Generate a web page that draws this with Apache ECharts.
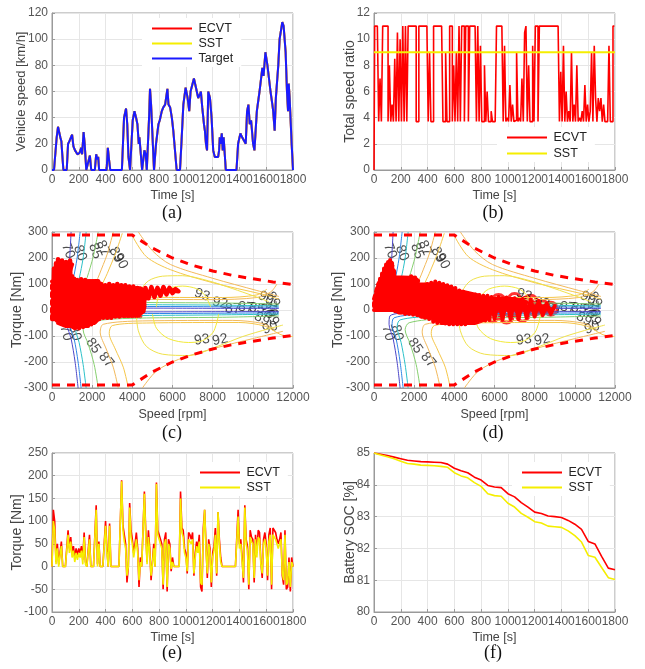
<!DOCTYPE html>
<html>
<head>
<meta charset="utf-8">
<script src="https://cdn.jsdelivr.net/npm/echarts@6.0.0/dist/echarts.min.js"></script>
<style>
html, body { margin: 0; padding: 0; background: #fff; }
#chart { width: 645px; height: 669px; }
</style>
</head>
<body>
<div id="chart"></div>
<script>
// ---- (a) vehicle speed, [time s, km/h]
const speedTarget = [
  [0,0],[15,0],[35,25],[45,33],[55,32],[62,25],[70,22],[78,10],[85,0],[110,0],[120,20],[130,22],[150,27],[160,18],
  [172,15],[190,12],[205,13],[212,15],[218,17],[225,12],[236,29],[244,20],[256,0],[268,0],[283,11],[293,0],[320,0],
  [330,12],[338,8],[345,10],[352,0],[408,0],[417,17],[426,8],[435,0],[522,0],[538,40],[553,47],[562,35],[571,10],
  [583,0],[592,0],[603,38],[616,45],[628,40],[638,35],[648,20],[653,25],[665,10],[673,0],[683,0],[690,15],[700,12],
  [708,0],[715,0],[725,40],[732,62],[740,50],[762,0],[770,0],[777,20],[795,35],[805,38],[820,45],[832,48],[845,50],
  [862,62],[870,50],[882,48],[895,40],[906,30],[931,0],[956,0],[968,23],[981,50],[998,63],[1013,55],[1025,45],
  [1035,60],[1060,70],[1075,63],[1092,55],[1105,58],[1112,60],[1122,48],[1135,35],[1142,30],[1150,20],[1158,15],
  [1167,60],[1180,55],[1192,40],[1204,15],[1216,10],[1241,10],[1248,15],[1253,25],[1260,20],[1268,28],[1275,15],
  [1282,25],[1298,0],[1378,0],[1390,20],[1407,28],[1420,25],[1430,25],[1447,20],[1457,45],[1467,50],[1477,35],
  [1487,38],[1502,20],[1512,15],[1530,45],[1550,60],[1571,78],[1580,72],[1594,90],[1609,80],[1632,60],[1646,50],
  [1652,45],[1663,30],[1672,55],[1690,80],[1700,100],[1720,113],[1730,110],[1745,90],[1755,60],[1763,45],
  [1768,66],[1775,55],[1790,20],[1800,0]
];

// ---- (b) total speed ratio, one value every 10 s
const ratioECVT = [
  0, 11, 11, 11, 3.7, 7, 3.7, 11, 11, 11,
  11, 3.7, 8, 3.7, 5, 3.7, 8.5, 3.7, 10.5, 3.7,
  10, 3.7, 11, 3.7, 11, 3.7, 11, 11, 11, 11,
  11, 11, 3.7, 3.7, 11, 11, 11, 11, 11, 11,
  11, 3.7, 9, 3.7, 3.7, 11, 11, 11, 11, 11,
  11, 11, 3.7, 3.7, 9, 3.7, 3.7, 11, 11, 3.7,
  8, 3.7, 9, 3.7, 11, 3.7, 11, 11, 3.7, 11,
  11, 3.7, 11, 11, 11, 11, 11, 3.7, 11, 3.7,
  9.5, 3.7, 3.7, 8, 3.7, 6, 3.7, 3.7, 4.5, 3.7,
  3.7, 3.7, 11, 11, 11, 11, 11, 3.7, 9.5, 3.7,
  4, 3.7, 6.5, 3.7, 5, 3.7, 3.8, 9, 3.7, 4,
  3.7, 7, 3.7, 10.5, 11, 3.7, 8, 3.7, 3.7, 9.5,
  3.7, 11, 11, 3.7, 11, 11, 11, 11, 11, 11,
  11, 11, 11, 11, 11, 11, 11, 11, 11, 3.7,
  7.5, 3.7, 9.5, 3.7, 6, 3.7, 4.5, 3.7, 9, 3.7,
  5, 3.7, 8, 3.7, 4, 3.7, 4.5, 3.7, 6.5, 3.7,
  5, 3.7, 4.5, 9, 3.7, 9.5, 5.5, 3.7, 5.5, 4.5,
  5.5, 3.7, 5, 3.7, 3.7, 3.7, 9.5, 3.7, 3.7, 11,
  11
];
const ratioSST = 9;

// ---- (c)/(d) motor efficiency map contours, [rpm, Nm]
const eff70 = [[950,300],[880,200],[780,120],[640,55],[700,22],[2000,9],[6000,7],[11300,6]];
const eff70Neg = [[1300,-300],[1150,-200],[950,-110],[750,-55],[800,-22],[2000,-9],[6000,-7],[11300,-6]];
const eff80 = [[1400,300],[1250,200],[1050,115],[880,55],[1000,28],[2500,15],[7000,13],[11300,11]];
const eff80Neg = [[1450,-300],[1300,-200],[1100,-110],[900,-60],[1000,-30],[2500,-16],[7000,-13],[11300,-11]];
const eff85 = [[1700,300],[1550,200],[1350,120],[1150,62],[1300,36],[3000,23],[8000,19],[11300,16]];
const eff85Neg = [[1700,-300],[1550,-210],[1350,-125],[1150,-66],[1300,-38],[3000,-24],[8000,-19],[11300,-16]];
const eff87 = [[2300,300],[2050,205],[1750,125],[1500,70],[1700,46],[3500,31],[8500,27],[11300,23]];
const eff87Neg = [[2300,-300],[2100,-210],[1800,-130],[1550,-76],[1750,-49],[3500,-33],[8500,-28],[11300,-23]];
const eff89 = [[3050,300],[2750,215],[2350,135],[2100,80],[2300,54],[4000,42],[8000,40],[10200,48],[10900,70],[11200,100]];
const eff89Neg = [[3300,-300],[3050,-220],[2700,-150],[2400,-85],[2550,-55],[4500,-42],[9000,-40],[10500,-52],[11100,-75]];
const eff90 = [[3500,295],[3150,215],[2750,140],[2500,90],[2700,60],[4200,50],[8500,48],[10200,58],[10700,80]];
const eff90Neg = [[3800,-300],[3550,-220],[3150,-150],[2850,-90],[3000,-60],[4700,-50],[9300,-48],[10600,-62],[11400,-95],[12000,-102]];
const eff89Far = [[4300,300],[5000,228],[5900,175],[8000,122],[10200,75],[11300,52]];
const eff90Far = [[4000,285],[4700,205],[5900,155],[8000,105],[10500,60],[11300,42]];
const eff89FarNeg = [[4500,-300],[5200,-235],[6300,-190],[8200,-145],[10000,-110],[11500,-82]];
const eff92 = [[4300,15],[4400,72],[4800,112],[5500,130],[6500,132],[7800,112],[9000,82],[10000,55],[10800,32]];
const eff92Neg = [[4200,-15],[4300,-80],[4700,-140],[5500,-170],[6800,-175],[8300,-138],[9500,-102],[10800,-72],[11500,-58]];
const eff93 = [[5200,12],[5300,50],[5700,80],[6500,92],[7200,82],[7600,58],[7800,30],[7900,12]];
const eff93Neg = [[5000,-15],[5200,-70],[5800,-110],[6800,-125],[7500,-118],[8000,-88],[8200,-50],[8300,-15]];

// contour labels: [rpm, Nm, text, rotation]
const effLabels = [
  [800,227,'70',-70],[1400,219,'80',-70],[2150,227,'85',-68],[2540,238,'87',-65],[3190,212,'89',-62],[3420,188,'90',-62],
  [700,-88,'70',-75],[1150,-88,'80',-75],[2050,-138,'85',-55],[2700,-192,'87',-50],
  [7470,58,'93',-20],[8370,27,'92',-12],[7470,-115,'93',8],[8370,-115,'92',12],[10860,-69,'90',18],
  [9000,5,'87',0],[9650,10,'87',-5],[10200,6,'85',-10],[10700,0,'80',-70],[10950,4,'70',-80],
  [10650,45,'90',-30],[11000,40,'89',-60],[10450,-35,'89',-30],[10950,-30,'89',-60]
];

// max torque envelope
const torqueMax = [[0,288],[4000,288],[4400,268],[5000,238],[6000,200],[7000,172],[8000,150],[9000,133],[10000,120],[11000,108],[12000,98]];
const torqueMin = [[0,-288],[4000,-288],[4400,-268],[5000,-238],[6000,-200],[7000,-172],[8000,-150],[9000,-133],[10000,-120],[11000,-108],[12000,-98]];

// motor operating points (c): fast torque swings, then slow drifts across speed
const opECVT = [
  [50,-20],[100,160],[150,-30],[200,180],[250,-40],[300,195],[350,-45],[400,170],[450,-50],[500,190],[550,-50],
  [600,150],[650,-55],[700,185],[750,-55],[800,140],[850,-60],[900,190],[950,-60],[1000,130],[1050,-65],[1100,120],
  [1150,-70],[1250,115],[1350,-70],[1450,118],[1550,-65],[1650,115],[1750,-60],[1850,110],[1950,-55],[2050,105],
  [2150,-45],[2250,95],[2350,-35],[2450,100],[2550,-30],[2650,95],[2750,-30],[2850,100],[2950,-30],[3050,95],
  [3150,-25],[3250,100],[3350,-25],[3450,95],[3550,-20],[3650,95],[3750,-20],[3850,90],[3950,-20],[4050,90],
  [4150,-15],[4250,85],[4350,-10],[4450,80],[4550,-5],[4650,85],[4800,45],[4950,88],[5100,50],[5250,85],
  [5400,55],[5550,88],[5700,60],[5850,85],[6000,65],[6150,80],[6300,72],[6000,75],[5000,68],[4000,55],
  [3000,40],[2000,20],[1000,50],[500,80]
];
const opECVTDrift = [
  [0,110],[2300,112],[2400,96],[0,95],[0,82],[4400,84],[4500,68],[0,66],[0,52],[4600,54],[4600,38],[0,36],
  [0,22],[4600,22],[4600,8],[0,6],[0,-8],[4500,-8],[4300,-22],[0,-22],[0,-36],[2300,-36],[2100,-50],[300,-50],
  [700,-62],[1800,-62],[300,150],[900,150],[1000,175],[350,175]
];
const opECVTDots = [[3600,-25],[3800,-25],[4000,-25],[4200,-25],[4400,-25]];

// motor operating points (d)
const opSST = [
  [50,10],[100,60],[150,0],[200,90],[250,0],[300,120],[350,0],[400,140],[450,0],[500,160],[550,0],[600,175],
  [650,0],[700,185],[750,0],[800,192],[850,0],[900,180],[950,0],[1000,150],[1050,-5],[1100,120],[1150,-5],
  [1200,100],[1250,-10],[1300,90],[1350,-10],[1450,100],[1550,-15],[1650,115],[1750,-15],[1850,130],[1950,-18],
  [2050,125],[2150,-20],[2250,95],[2350,-25],[2450,90],[2550,-30],[2650,100],[2750,-35],[2850,105],[2950,-45],
  [3050,110],[3150,-50],[3250,105],[3350,-50],[3450,100],[3550,-52],[3650,95],[3750,-55],[3850,90],[3950,-55],
  [4050,85],[4150,-55],[4250,75],[4350,-55],[4450,70],[4550,-55],[4650,65],[4750,-50],[4850,60],[4950,-45],
  [5050,60],[5150,-45],[5250,58],[5350,-40],[5450,55],[5550,-40],[5650,55],[5750,-38],[5850,50],[6000,-35],
  [6200,50],[6400,-37],[6600,48],[6800,-35],[7000,45],[7200,-35],[7400,42],[7600,-30],[7800,40],[8000,-25],
  [8200,35],[8400,-20],[8600,25],[8800,-15],[9000,15]
];
const opSSTDrift = [
  [0,0],[8800,2],[8600,14],[0,14],[0,28],[7600,30],[7000,42],[0,42],[50,56],[5200,56],[4400,70],[100,70],
  [150,84],[3900,84],[3300,98],[200,98],[300,112],[1200,112],[1700,112],[2200,112],[2000,124],[1750,124],
  [1050,126],[400,126],[500,140],[1000,140],[950,155],[550,155],[650,170],[920,170],[750,183],[870,183],
  [1200,-8],[2100,-14],[2400,-26],[3000,-28],[3200,-42],[5500,-38],[5000,-50],[3400,-50]
];
const opSSTRings = [[6000,10],[6400,22],[6800,0],[7200,15],[7600,25],[8000,5],[8400,10],[8800,5],[6200,35],[7000,38],[7800,32],[5900,-20],[6600,-25],[7400,-18]];

// ---- (e) motor torque, one value every 10 s
const torqueECVT = [
  0, 125, 100, 10, 50, 5, 30, 55, 0, 0,
  0, 0, 80, 40, 65, 30, 45, 20, 40, 25,
  40, 30, 45, 15, 75, 10, 0, 0, 70, 0,
  0, 0, 0, 135, 5, 55, 0, 0, 0, 0,
  100, 40, 0, 95, 0, 0, 0, 0, 0, 0,
  0, 0, 190, 90, 70, 50, -35, 0, 140, 80,
  60, 30, 50, 75, 40, -45, 20, 0, 0, 165,
  80, 10, 80, 40, -30, 10, 50, 0, 185, 80,
  70, 60, 50, -50, 60, 75, -55, 60, 50, -10,
  20, 0, 0, 0, 0, 0, 165, 85, 80, 40,
  30, -15, 75, 70, 60, 75, -20, 30, 55, 40,
  70, -45, -55, 85, 125, 50, -25, 60, 40, -45,
  30, 45, 85, -20, 120, 60, 20, 0, 0, 0,
  0, 0, 0, 0, 0, 0, 0, 0, 0, 125,
  50, 60, 20, -35, 135, 60, 45, -50, 80, 65,
  60, -35, 70, 30, 80, 75, 10, -25, 60, 75,
  50, -30, 70, 85, -50, 85, 80, 75, 60, 50,
  60, 75, -20, -40, 80, -50, -45, 20, -55, 20,
  0
];
const torqueSST = [
  0, 100, 80, 5, 40, 0, 25, 45, 0, 0,
  0, 0, 70, 30, 55, 20, 35, 10, 30, 15,
  30, 20, 35, 5, 65, 5, 0, 0, 60, 0,
  0, 0, 0, 125, 0, 50, 0, 0, 0, 0,
  90, 30, 0, 90, 0, 0, 0, 0, 0, 0,
  0, 0, 188, 80, 55, 40, -20, 0, 130, 65,
  50, 20, 40, 60, 30, -30, 10, 0, 0, 160,
  70, 5, 65, 30, -20, 5, 40, 0, 182, 70,
  60, 50, 40, -40, 50, 60, -45, 50, 40, -5,
  10, 0, 0, 0, 0, 0, 150, 75, 65, 30,
  20, -10, 60, 55, 50, 60, -15, 20, 45, 30,
  55, -35, -40, 70, 125, 40, -15, 50, 30, -35,
  20, 35, 70, -15, 120, 50, 10, 0, 0, 0,
  0, 0, 0, 0, 0, 0, 0, 0, 0, 110,
  40, 50, 10, -25, 130, 50, 35, -40, 65, 55,
  50, -25, 60, 20, 65, 60, 5, -15, 50, 60,
  40, -20, 55, 70, -40, 70, 65, 60, 50, 40,
  50, 60, -15, -30, 70, -40, -35, 10, -45, 10,
  0
];

// ---- (f) battery SOC, one value every 50 s
const socECVT = [85, 84.96, 84.92, 84.87, 84.82, 84.77, 84.75, 84.73, 84.72, 84.71, 84.70, 84.65, 84.52, 84.44,
  84.38, 84.24, 84.15, 83.98, 83.93, 83.91, 83.72, 83.62, 83.44, 83.3, 83.14, 83.1, 83.02, 83.0, 82.97, 82.88,
  82.76, 82.6, 82.22, 82.14, 81.75, 81.38, 81.33];
const socSST = [85, 84.94, 84.88, 84.82, 84.74, 84.67, 84.65, 84.62, 84.61, 84.6, 84.58, 84.55, 84.38, 84.28,
  84.22, 84.07, 83.95, 83.72, 83.66, 83.64, 83.42, 83.3, 83.1, 82.98, 82.84, 82.8, 82.7, 82.68, 82.66, 82.55,
  82.4, 82.2, 81.78, 81.72, 81.4, 81.08, 81.02];

const FONT = '"Liberation Sans", Arial, sans-serif'
const RED = '#ff0000'
const YELLOW = '#f5ee00'
const BLUE = '#1a1aff'

const withTime = (arr, step) => arr.map((v, i) => [i * step, v])

const axis = (o) => Object.assign({
  type: 'value',
  nameLocation: 'middle',
  nameMoveOverlap: false,
  nameTextStyle: { color: '#444', fontSize: 14, fontFamily: FONT },
  axisLine: { show: true, onZero: false, lineStyle: { color: '#9a9a9a' } },
  axisTick: { show: true, inside: true, length: 3, lineStyle: { color: '#9a9a9a' } },
  axisLabel: {
    color: '#555', fontSize: 12, fontFamily: FONT, margin: 4,
    showMinLabel: true, showMaxLabel: true, hideOverlap: false,
    formatter: (v) => String(v)
  },
  splitLine: { show: true, lineStyle: { color: '#e6e6e6' } }
}, o)

const xName = { color: '#444', fontSize: 12.5, fontFamily: FONT }
const timeAxis = (gridIndex) => axis({ gridIndex, min: 0, max: 1800, interval: 200, name: 'Time [s]', nameGap: 19, nameTextStyle: xName })
const rpmAxis = (gridIndex) => axis({ gridIndex, min: 0, max: 12000, interval: 2000, name: 'Speed [rpm]', nameGap: 20, nameTextStyle: xName })

const grid = (left, top, height) => ({ left, top, width: 241, height, show: true, borderColor: '#9a9a9a', borderWidth: 1 })

const legend = (data, left, top, gap) => ({
  data, left, top, orient: 'vertical', itemWidth: 43, itemHeight: 2, itemGap: gap,
  icon: 'path://M0,0L40,0L40,2L0,2Z', z: 1,
  backgroundColor: '#fff', padding: [4, 8, 2, 10], selectedMode: false,
  textStyle: { fontSize: 12.5, color: '#222', fontFamily: FONT }
})

const line = (name, data, xi, color, width, extra) => Object.assign({
  name, type: 'line', data, xAxisIndex: xi, yAxisIndex: xi, symbol: 'none', showSymbol: false,
  lineStyle: { color, width }, itemStyle: { color }, animation: false
}, extra || {})

const thick = (name, data, xi, width) =>
  line(name, data, xi, RED, width, { silent: true, lineStyle: { color: RED, width, join: 'round', cap: 'round' } })

const contourDefs = [
  [eff70, '#4b46c8'], [eff70Neg, '#4b46c8'], [eff80, '#2f86e6'], [eff80Neg, '#2f86e6'],
  [eff85, '#2cc1c9'], [eff85Neg, '#2cc1c9'], [eff87, '#86cf6f'], [eff87Neg, '#86cf6f'],
  [eff89, '#f2b95c'], [eff89Neg, '#f2b95c'], [eff90, '#f5c64a'], [eff90Neg, '#f5c64a'],
  [eff89Far, '#f2b95c'], [eff90Far, '#f5c64a'], [eff89FarNeg, '#f2b95c'],
  [eff92, '#f0e24a'], [eff92Neg, '#f0e24a'], [eff93, '#f3ea3a'], [eff93Neg, '#f3ea3a']
]

const mapSeries = (xi) => {
  const out = contourDefs.map(([pts, c], k) => line('eff' + xi + '_' + k, pts, xi, c, 1, { silent: true, smooth: 0.3 }))
  out.push({
    name: 'labels' + xi, type: 'scatter', xAxisIndex: xi, yAxisIndex: xi, symbolSize: 1, silent: true,
    itemStyle: { color: 'rgba(0,0,0,0)' }, animation: false,
    label: { show: true, formatter: '{b}', position: 'inside', fontSize: 14, color: '#222', fontFamily: FONT },
    data: effLabels.map(([x, y, t, r]) => ({ name: t, value: [x, y], label: { rotate: r } }))
  })
  out.push(line('limitUp' + xi, torqueMax, xi, RED, 3, { lineStyle: { color: RED, width: 3, type: [8, 7] }, silent: true }))
  out.push(line('limitLow' + xi, torqueMin, xi, RED, 3, { lineStyle: { color: RED, width: 3, type: [8, 7] }, silent: true }))
  return out
}

const series = [
  // (a)
  line('ECVT', speedTarget, 0, RED, 2),
  line('SST', speedTarget, 0, YELLOW, 2),
  line('Target', speedTarget, 0, BLUE, 2),
  // (b)
  line('ECVT', withTime(ratioECVT, 10), 1, RED, 1.6, { step: 'middle' }),
  line('SST', [[0, ratioSST], [1800, ratioSST]], 1, YELLOW, 1.8),
  // (c)
  ...mapSeries(2),
  thick('opC', opECVT, 2, 4.5),
  thick('opC2', opECVTDrift, 2, 4),
  { name: 'opCdots', type: 'scatter', xAxisIndex: 2, yAxisIndex: 2, data: opECVTDots, symbolSize: 4,
    itemStyle: { color: RED }, animation: false },
  // (d)
  ...mapSeries(3),
  thick('opD', opSST, 3, 4),
  thick('opD2', opSSTDrift, 3, 4),
  { name: 'opDrings', type: 'scatter', xAxisIndex: 3, yAxisIndex: 3, data: opSSTRings, symbolSize: 13,
    itemStyle: { color: 'rgba(0,0,0,0)', borderColor: RED, borderWidth: 3 }, animation: false },
  // (e)
  line('ECVT', withTime(torqueECVT, 10), 4, RED, 1.6),
  line('SST', withTime(torqueSST, 10), 4, YELLOW, 1.6),
  // (f)
  line('ECVT', withTime(socECVT, 50), 5, RED, 1.6),
  line('SST', withTime(socSST, 50), 5, YELLOW, 1.6)
]

const caption = (text, x, y) => ({
  type: 'text', x, y, silent: true,
  style: { text, font: '18px "Liberation Serif", "Times New Roman", serif', fill: '#111', align: 'center', verticalAlign: 'middle' }
})

const chart = echarts.init(document.getElementById('chart'), null, { renderer: 'canvas' })
chart.setOption({
  backgroundColor: '#fff',
  animation: false,
  grid: [grid(52, 13, 157), grid(374, 13, 157), grid(52, 232, 156), grid(374, 232, 156), grid(52, 453, 159), grid(374, 453, 159)],
  xAxis: [timeAxis(0), timeAxis(1), rpmAxis(2), rpmAxis(3), timeAxis(4), timeAxis(5)],
  yAxis: [
    axis({ gridIndex: 0, min: 0, max: 120, interval: 20, name: 'Vehicle speed [km/h]', nameGap: 24, nameTextStyle: { color: '#444', fontSize: 13, fontFamily: FONT } }),
    axis({ gridIndex: 1, min: 0, max: 12, interval: 2, name: 'Total speed ratio', nameGap: 17 }),
    axis({ gridIndex: 2, min: -300, max: 300, interval: 100, name: 'Torque [Nm]', nameGap: 28 }),
    axis({ gridIndex: 3, min: -300, max: 300, interval: 100, name: 'Torque [Nm]', nameGap: 29 }),
    axis({ gridIndex: 4, min: -100, max: 250, interval: 50, name: 'Torque [Nm]', nameGap: 28 }),
    axis({ gridIndex: 5, min: 80, max: 85, interval: 1, name: 'Battery SOC [%]', nameGap: 17 })
  ],
  legend: [
    legend(['ECVT', 'SST', 'Target'], 142, 18, 2),
    legend(['ECVT', 'SST'], 497, 127, 3),
    legend(['ECVT', 'SST'], 190, 462, 2),
    legend(['ECVT', 'SST'], 512, 462, 2)
  ],
  graphic: [
    caption('(a)', 172, 213), caption('(b)', 493, 213),
    caption('(c)', 172, 433), caption('(d)', 493, 433),
    caption('(e)', 172, 653), caption('(f)', 493, 653)
  ],
  series
})
</script>
</body>
</html>
